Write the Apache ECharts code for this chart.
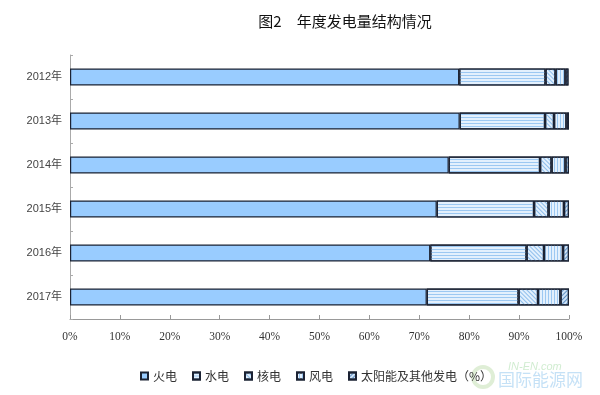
<!DOCTYPE html>
<html><head><meta charset="utf-8">
<script src="https://cdn.jsdelivr.net/npm/echarts@6/dist/echarts.min.js"></script>
<style>html,body{margin:0;padding:0;background:#fff}#c{width:600px;height:395px}</style>
</head><body><div id="c"></div>
<script>
const categories = ['2012年','2013年','2014年','2015年','2016年','2017年'];
const seriesNames = ['火电','水电','核电','风电','太阳能及其他发电'];
const thermal = [78.0, 78.1, 75.9, 73.5, 72.2, 71.5];
const hydro   = [17.3, 17.1, 18.3, 19.5, 19.3, 18.4];
const nuclear = [2.0, 1.8, 2.3, 2.9, 3.5, 3.9];
const wind    = [2.0, 2.5, 2.8, 3.1, 3.8, 4.5];
const solar   = [0.6, 0.5, 0.7, 1.0, 1.2, 1.7];
const xTicks = [0,10,20,30,40,50,60,70,80,90,100];

const border = {borderColor:'#1b2233', borderWidth:1.2};
const styles = [
  Object.assign({color:'#99CCFF'}, border),
  Object.assign({color:'#E3F0FD', decal:{symbol:'rect',symbolSize:1,dashArrayX:[1,0],dashArrayY:[1,2],rotation:0,color:'#9CC8F2'}}, border),
  Object.assign({color:'#E3F0FD', decal:{symbol:'rect',symbolSize:1,dashArrayX:[1,0],dashArrayY:[1,2],rotation:Math.PI/4,color:'#8DBDEB'}}, border),
  Object.assign({color:'#E3F0FD', decal:{symbol:'rect',symbolSize:1,dashArrayX:[1,0],dashArrayY:[1,2],rotation:Math.PI/2,color:'#9CC8F2'}}, border),
  Object.assign({color:'#CFE3F7', decal:{symbol:'rect',symbolSize:1,dashArrayX:[1,0],dashArrayY:[1,1.5],rotation:-Math.PI/4,color:'#5E8FC4'}}, border)
];
const data = [thermal, hydro, nuclear, wind, solar];

const chart = echarts.init(document.getElementById('c'), null, {renderer:'canvas'});
chart.setOption({
  animation:false,
  backgroundColor:'#fff',
  title:{text:'图2　年度发电量结构情况', left:340, top:9, textAlign:'center',
    textStyle:{fontFamily:'Noto Sans CJK SC', fontSize:15, fontWeight:'normal', color:'#111'}},
  legend:{bottom:8, left:135, itemWidth:7, itemHeight:7, itemGap:15, icon:'rect',
    textStyle:{fontFamily:'Noto Sans CJK SC', fontSize:12, color:'#333'},
    formatter: n => n === '太阳能及其他发电' ? n + '（%）' : n,
    data: seriesNames},
  grid:{left:70, right:31, top:55, bottom:76, containLabel:false},
  xAxis:{type:'value', min:0, max:100, interval:10,
    axisLine:{show:true, lineStyle:{color:'#999'}},
    axisTick:{show:true, inside:true, length:4, lineStyle:{color:'#999'}},
    splitLine:{show:false},
    axisLabel:{formatter: v => xTicks.includes(v) ? v + '%' : '', fontFamily:'Liberation Serif, Noto Sans CJK SC', fontSize:11.5, color:'#333', margin:12}},
  yAxis:{type:'category', data:categories, inverse:true,
    axisLine:{show:true, lineStyle:{color:'#aaa'}},
    axisTick:{show:true, inside:true, length:3, lineStyle:{color:'#aaa'}},
    axisLabel:{fontFamily:'Liberation Sans, Noto Sans CJK SC', fontSize:11, color:'#444', margin:8}},
  graphic:[
    {type:'circle', shape:{cx:483, cy:377, r:10}, style:{fill:'none', stroke:'rgba(150,200,120,0.3)', lineWidth:4}},
    {type:'text', left:508, top:361, style:{text:'IN-EN.com', fontSize:11, fontStyle:'italic', fill:'rgba(120,200,120,0.35)', fontFamily:'Liberation Sans'}},
    {type:'text', left:498, top:371, style:{text:'国际能源网', fontSize:17, fill:'rgba(90,170,230,0.35)', fontFamily:'Noto Sans CJK SC'}}
  ],
  series: seriesNames.map((n,i)=>({
    name:n, type:'bar', stack:'total', barWidth:17,
    itemStyle: styles[i],
    emphasis:{disabled:true},
    data: data[i]
  }))
});
</script></body></html>
